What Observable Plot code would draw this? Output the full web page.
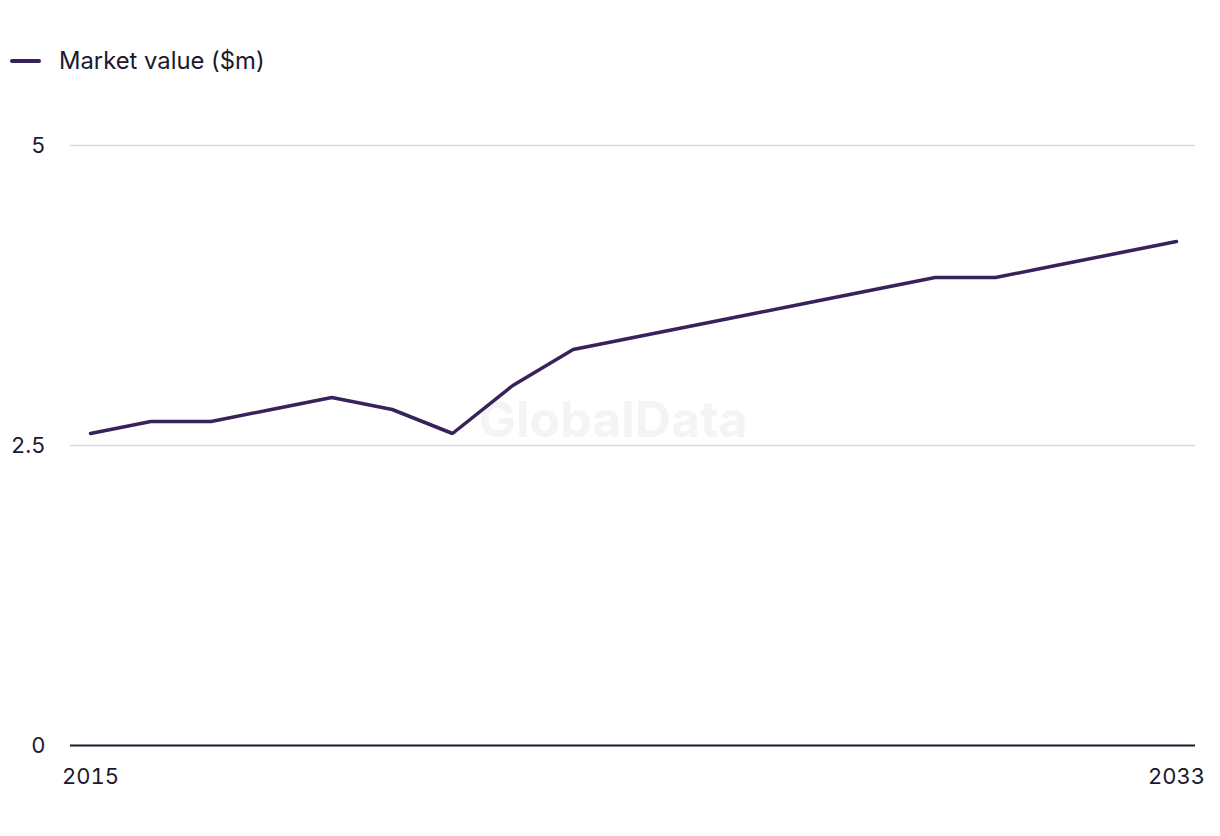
<!DOCTYPE html>
<html>
<head>
<meta charset="utf-8">
<script src="https://cdn.jsdelivr.net/npm/d3@7"></script>
<script src="https://cdn.jsdelivr.net/npm/@observablehq/plot@0.6"></script>
<style>
  body { margin: 0; background: #fff; font-family: Inter, "Noto Sans", sans-serif; color: #1b1a2e; }
  #legend { height: 100px; position: relative; }
  #legend .sw { position: absolute; left: 10px; top: 59px; width: 31px; height: 4px; background: #38225a; border-radius: 2px; }
  #legend .lb { position: absolute; left: 59px; top: 45px; font-size: 23.8px; line-height: 32px; color: #1b1a2e; }
  #chart svg { display: block; }
</style>
</head>
<body>
<div id="legend"><div class="sw"></div><div class="lb">Market value ($m)</div></div>
<div id="chart"></div>
<script>
const years = [2015,2016,2017,2018,2019,2020,2021,2022,2023,2024,2025,2026,2027,2028,2029,2030,2031,2032,2033];
const marketValue = [2.6,2.7,2.7,2.8,2.9,2.8,2.6,3.0,3.3,3.4,3.5,3.6,3.7,3.8,3.9,3.9,4.0,4.1,4.2];
const yTicks = [0, 2.5, 5];
const xTicks = [2015, 2033];
const seriesName = "Market value ($m)";
const watermark = "GlobalData";

const data = years.map((y, i) => ({year: y, value: marketValue[i]}));

const chart = Plot.plot({
  width: 1220,
  height: 736,
  marginLeft: 70,
  marginRight: 25,
  marginTop: 45,
  marginBottom: 91,
  insetLeft: 20,
  insetRight: 19,
  style: {fontFamily: "Inter, 'Noto Sans', sans-serif", fontSize: "22px", color: "#1b1a2e", background: "#fff"},
  x: {domain: [2015, 2033], label: null},
  y: {domain: [0, 5], label: null},
  marks: [
    Plot.text([watermark], {frameAnchor: "middle", dx: -20, dy: -25, text: d => d, fontSize: 50, fontWeight: "bold", fill: "#f4f4f6"}),
    Plot.ruleY(yTicks.filter(d => d > 0), {stroke: "#d9d9dd", strokeWidth: 1.5}),
    Plot.ruleY([0], {stroke: "#1b1a2e", strokeWidth: 2}),
    Plot.axisY({ticks: yTicks, tickSize: 0, tickPadding: 25, tickFormat: d => String(d), fontSize: 22, fill: "#1b1a2e"}),
    Plot.axisX({ticks: xTicks, tickSize: 0, tickPadding: 23, tickFormat: d => String(d), fontSize: 22, fill: "#1b1a2e"}),
    Plot.line(data, {x: "year", y: "value", stroke: "#38225a", strokeWidth: 3.5, strokeLinejoin: "miter", title: () => seriesName})
  ]
});
document.getElementById("chart").appendChild(chart);
</script>
</body>
</html>
